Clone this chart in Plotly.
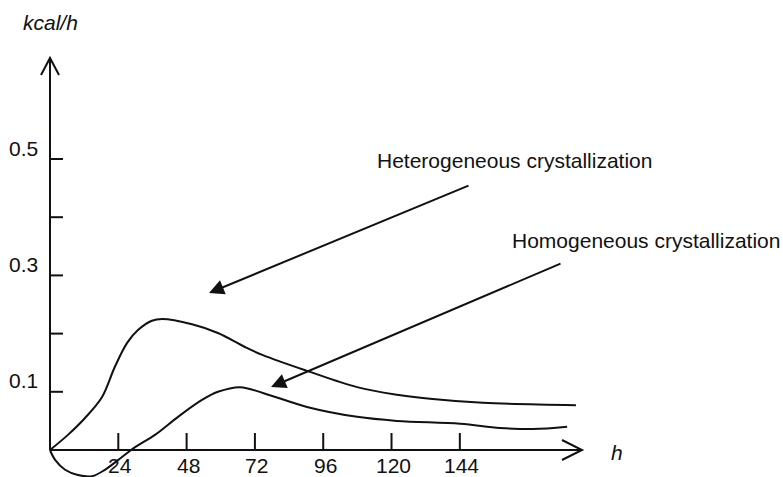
import plotly.graph_objects as go

# ---- data ----
het_h = [0, 6.3, 12.3, 18.3, 22.8, 27.1, 30.9, 35.8, 39.4, 49.9, 59.0, 68.5, 74.8, 90.3, 107.9, 121.9, 133.5, 152.1, 184.8]
het_v = [0, 0.026, 0.055, 0.091, 0.143, 0.184, 0.206, 0.222, 0.225, 0.216, 0.201, 0.177, 0.163, 0.136, 0.108, 0.095, 0.088, 0.081, 0.077]

hom_h = [0, 1.8, 5.3, 9.8, 14.8, 19.3, 25.3, 29.9, 36.9, 45.0, 53.4, 59.0, 66.8, 74.8, 90.3, 107.9, 121.9, 144.1, 158.1, 169.7, 181.7]
hom_v = [0, -0.017, -0.034, -0.043, -0.045, -0.034, -0.012, 0.005, 0.026, 0.057, 0.086, 0.100, 0.108, 0.098, 0.074, 0.057, 0.050, 0.045, 0.038, 0.036, 0.040]

x_ticks = [24, 48, 72, 96, 120, 144]
y_ticks = [0.1, 0.2, 0.3, 0.4, 0.5]
y_tick_labels = {0.1: "0.1", 0.3: "0.3", 0.5: "0.5"}

x_label = "h"
y_label = "kcal/h"
het_text = "Heterogeneous crystallization"
hom_text = "Homogeneous crystallization"

# ---- geometry helpers ----
W, H = 783, 477
PXX = 2.846   # px per hour
PXY = 582.0   # px per kcal/h
OX, OY = 50, 450  # pixel of origin
x_rng = [-OX / PXX, (W - OX) / PXX]
y_rng = [-(H - OY) / PXY, OY / PXY]

def dx(px):
    return px / PXX

def dy(px):
    return px / PXY

X_END = dx(532)
Y_END = dy(392)
FONT = "Liberation Sans, Arial, sans-serif"
FS = 21
INK = "#111111"

fig = go.Figure()
fig.add_trace(go.Scatter(x=het_h, y=het_v, mode="lines",
                         line=dict(color=INK, width=2, shape="spline", smoothing=1.0),
                         showlegend=False, hoverinfo="skip"))
fig.add_trace(go.Scatter(x=hom_h, y=hom_v, mode="lines",
                         line=dict(color=INK, width=2, shape="spline", smoothing=1.0),
                         showlegend=False, hoverinfo="skip"))

shapes = []
# axes
shapes.append(dict(type="line", x0=0, y0=0, x1=X_END, y1=0, line=dict(color=INK, width=2)))
shapes.append(dict(type="line", x0=0, y0=0, x1=0, y1=Y_END, line=dict(color=INK, width=2)))
# arrow chevrons
shapes.append(dict(type="path",
                   path=f"M {X_END-dx(20)},{dy(10)} L {X_END},0 L {X_END-dx(20)},{-dy(10)}",
                   line=dict(color=INK, width=2)))
shapes.append(dict(type="path",
                   path=f"M {-dx(9)},{Y_END-dy(17)} L 0,{Y_END} L {dx(9)},{Y_END-dy(17)}",
                   line=dict(color=INK, width=2)))
# ticks
for t in x_ticks:
    shapes.append(dict(type="line", x0=t, y0=0, x1=t, y1=dy(17), line=dict(color=INK, width=2)))
for t in y_ticks:
    shapes.append(dict(type="line", x0=0, y0=t, x1=dx(13), y1=t, line=dict(color=INK, width=2)))

ann = []
for t in x_ticks:
    ann.append(dict(x=t, y=0, text=str(t), showarrow=False, xanchor="center", yanchor="top",
                    yshift=-2, xshift=2, font=dict(family=FONT, size=FS, color=INK)))
for t, lab in y_tick_labels.items():
    ann.append(dict(x=0, y=t, text=lab, showarrow=False, xanchor="right", yanchor="middle",
                    xshift=-10, yshift=11, font=dict(family=FONT, size=FS, color=INK)))
ann.append(dict(x=0, y=Y_END, text=f"<i>{y_label}</i>", showarrow=False, xanchor="center",
                yanchor="bottom", yshift=22, font=dict(family=FONT, size=FS, color=INK)))
ann.append(dict(x=X_END, y=0, text=f"<i>{x_label}</i>", showarrow=False, xanchor="left",
                yanchor="middle", xshift=27, yshift=-2, font=dict(family=FONT, size=FS, color=INK)))
ann.append(dict(x=dx(325), y=dy(290), text=het_text, showarrow=False, xanchor="left",
                yanchor="middle", font=dict(family=FONT, size=FS, color=INK)))
ann.append(dict(x=dx(460), y=dy(210), text=hom_text, showarrow=False, xanchor="left",
                yanchor="middle", font=dict(family=FONT, size=FS, color=INK)))
# pointer arrows
ann.append(dict(x=dx(159), y=dy(157), ax=dx(420), ay=dy(265), xref="x", yref="y",
                axref="x", ayref="y", text="", showarrow=True, arrowhead=2, arrowsize=1.5,
                arrowwidth=2, arrowcolor=INK, standoff=0))
ann.append(dict(x=dx(221), y=dy(63), ax=dx(512), ay=dy(187), xref="x", yref="y",
                axref="x", ayref="y", text="", showarrow=True, arrowhead=2, arrowsize=1.5,
                arrowwidth=2, arrowcolor=INK, standoff=0))

fig.update_layout(
    width=W, height=H, margin=dict(l=0, r=0, t=0, b=0),
    paper_bgcolor="white", plot_bgcolor="white",
    xaxis=dict(range=x_rng, visible=False, fixedrange=True),
    yaxis=dict(range=y_rng, visible=False, fixedrange=True),
    shapes=shapes, annotations=ann, showlegend=False,
)

fig.write_html("out.html", config={"displayModeBar": False})
